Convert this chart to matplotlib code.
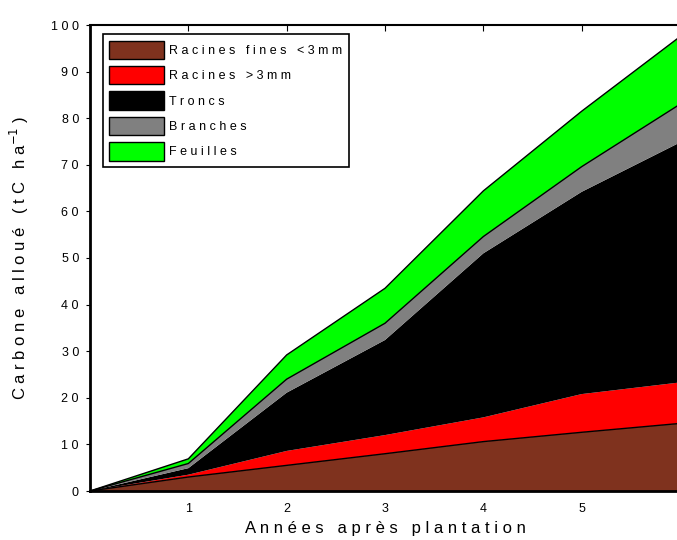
import numpy as np
import matplotlib
matplotlib.use('Agg')
import matplotlib.pyplot as plt

# données (tC/ha)
annees = [0, 1, 2, 3, 4, 5, 6]
racines_fines = [0, 3.0, 5.5, 8.0, 10.6, 12.6, 14.5]
racines_grosses = [0, 0.5, 3.1, 4.0, 5.2, 8.2, 8.8]
troncs = [0, 1.4, 12.5, 20.4, 35.2, 43.4, 51.5]
branches = [0, 1.0, 2.9, 3.6, 3.6, 5.4, 8.2]
feuilles = [0, 1.0, 5.2, 7.5, 9.8, 11.9, 14.5]

noms = ['Racines fines <3mm', 'Racines >3mm', 'Troncs', 'Branches', 'Feuilles']
couleurs = ['#7f321e', '#ff0000', '#000000', '#808080', '#00ff00']
x_ticks = [1, 2, 3, 4, 5]
y_ticks = [0, 10, 20, 30, 40, 50, 60, 70, 80, 90, 100]

plt.rcParams['font.family'] = ['Liberation Sans', 'DejaVu Sans']


def espace(txt):
    return ' '.join(txt)


fig = plt.figure(figsize=(6.77, 5.40), dpi=100)
ax = fig.add_axes([90 / 677, 1 - 491 / 540, 590 / 677, (491 - 25) / 540])

series = [racines_fines, racines_grosses, troncs, branches, feuilles]
bas = np.zeros(len(annees))
hauts = []
for serie, nom, coul in zip(series, noms, couleurs):
    haut = bas + np.array(serie)
    ax.fill_between(annees, bas, haut, facecolor=coul, edgecolor='none', label=espace(nom))
    hauts.append(haut)
    bas = haut

# contours noirs
for i in [0, 3, 4]:
    ax.plot(annees, hauts[i], color='black', lw=1)

ax.set_xlim(0, 6)
ax.set_ylim(0, 100)
ax.set_xticks(x_ticks)
ax.set_xticklabels([espace(str(v)) for v in x_ticks])
ax.set_yticks(y_ticks)
ax.set_yticklabels([espace(str(v)) for v in y_ticks])
ax.tick_params(axis='x', direction='in', top=True, bottom=False, length=4, labelsize=9, pad=9)
ax.tick_params(axis='y', direction='out', length=3, labelsize=9, pad=5)
ax.spines['right'].set_visible(False)
ax.spines['left'].set_linewidth(2)
ax.spines['bottom'].set_linewidth(2)
ax.spines['top'].set_linewidth(1.5)

ax.set_xlabel(espace('Années après plantation'), fontsize=12, labelpad=4)
ax.set_ylabel('C a r b o n e   a l l o u é   ( t C   h a$^{-1}$ )', fontsize=12, labelpad=14)

leg = ax.legend(loc='upper left', bbox_to_anchor=(0.022, 0.98), fontsize=9, fancybox=False,
                edgecolor='black', framealpha=1, handlelength=4.4, handleheight=1.9,
                labelspacing=0.55, borderpad=0.5, handletextpad=0.4, borderaxespad=0)
leg.get_frame().set_linewidth(1.2)
for h in leg.legend_handles:
    h.set_edgecolor('black')
    h.set_linewidth(1)

fig.savefig('out.png', dpi=100)
